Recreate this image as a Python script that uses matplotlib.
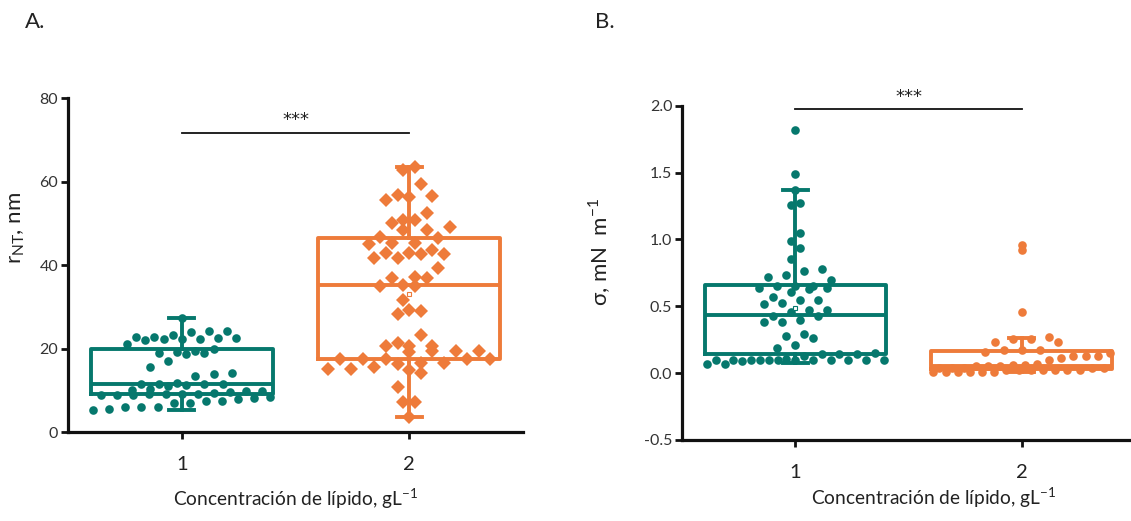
import matplotlib
matplotlib.use("Agg")
import matplotlib.pyplot as plt
import numpy as np

plt.rcParams['font.family'] = ['Lato', 'DejaVu Sans']
plt.rcParams['mathtext.fontset'] = 'custom'
plt.rcParams['mathtext.rm'] = 'Lato'
plt.rcParams['axes.unicode_minus'] = False

TEAL = '#06786D'
ORANGE = '#EE7B3A'

categories = ['1', '2']

# Panel A: r_NT (nm)
rnt_1 = [27.3, 24.3, 24.1, 24.0, 23.3, 22.8, 22.7, 22.6, 22.5, 22.4, 22.3, 22.2, 22.1,
         21.1, 19.8, 19.3, 19.1, 19.0, 18.9, 18.8, 16.9, 15.5, 14.1, 13.9, 13.5, 11.7,
         11.6, 11.5, 11.5, 11.4, 11.3, 11.0, 10.2, 10.0, 9.9, 9.8, 9.6, 9.4, 9.2, 9.1,
         9.0, 9.0, 8.9, 8.9, 8.8, 8.3, 8.1, 7.9, 7.5, 7.4, 7.0, 6.9, 6.1, 6.0, 5.9, 5.6, 5.2]
rnt_2 = [63.6, 62.8, 59.4, 56.7, 56.5, 56.4, 55.5, 52.5, 50.9, 50.8, 50.0, 49.2, 48.5,
         48.4, 46.6, 46.4, 45.3, 45.2, 45.1, 43.6, 42.9, 42.8, 42.7, 42.6, 41.8, 41.7,
         39.4, 37.1, 37.0, 36.9, 35.1, 35.0, 34.9, 31.6, 29.2, 29.0, 28.3, 23.3, 21.3,
         20.7, 20.6, 20.5, 19.4, 19.3, 19.2, 19.3, 17.6, 17.5, 17.5, 17.4, 17.4, 16.6,
         16.5, 16.4, 15.5, 15.0, 15.0, 14.9, 14.1, 10.8, 7.3, 7.2, 3.7]
rnt_q1 = [9.0, 17.6]
rnt_med = [11.4, 35.1]
rnt_q3 = [19.8, 46.4]
rnt_lo = [5.3, 3.7]
rnt_hi = [27.3, 63.5]
rnt_mean = [None, 33.0]

# Panel B: sigma (mN m-1)
sig_1 = [1.82, 1.49, 1.37, 1.275, 1.26, 1.045, 0.99, 0.935, 0.85, 0.78, 0.76, 0.735,
         0.72, 0.70, 0.655, 0.655, 0.655, 0.64, 0.635, 0.63, 0.61, 0.57, 0.545, 0.545,
         0.525, 0.52, 0.475, 0.475, 0.46, 0.43, 0.43, 0.40, 0.38, 0.38, 0.29, 0.28,
         0.26, 0.21, 0.19, 0.15, 0.145, 0.145, 0.145, 0.13, 0.105,
         0.10, 0.10, 0.10, 0.10, 0.10, 0.10, 0.10, 0.10, 0.10, 0.10, 0.10, 0.10,
         0.09, 0.065, 0.065]
sig_2 = [0.96, 0.92, 0.46, 0.27, 0.255, 0.255, 0.23, 0.23, 0.175, 0.175, 0.175, 0.16,
         0.15, 0.125, 0.125, 0.125, 0.11, 0.095, 0.07, 0.06, 0.06, 0.05, 0.05, 0.05,
         0.035, 0.035, 0.035, 0.035, 0.035, 0.02, 0.02, 0.02, 0.02, 0.02, 0.02, 0.02,
         0.01, 0.01, 0.01, 0.01, 0.01, 0.01]
sig_q1 = [0.14, 0.03]
sig_med = [0.435, 0.05]
sig_q3 = [0.66, 0.165]
sig_lo = [0.075, 0.01]
sig_hi = [1.37, 0.26]
sig_mean = [0.49, None]


def scatter_offsets(values, bin_h, step, half_width=0.4):
    """Reparto tipo Prism: bandas horizontales, puntos en una rejilla."""
    vals = np.asarray(values, dtype=float)
    xs = np.zeros(len(vals))
    bins = np.floor(vals / bin_h).astype(int)
    for b in np.unique(bins):
        idx = np.where(bins == b)[0]
        idx = idx[np.argsort(vals[idx])]
        n = len(idx)
        st = step
        if (n - 1) * st > 2 * half_width - 0.02:
            st = (2 * half_width - 0.02) / max(n - 1, 1)
        slots = list(range(0, n, 2)) + list(range(1, n, 2))
        for k, i in zip(slots, idx):
            xs[i] = (k - (n - 1) / 2) * st
    return xs


def draw_panel(ax, groups, q1, med, q3, lo, hi, means, markers, bin_h):
    colors = [TEAL, ORANGE]
    for i, (vals, mk) in enumerate(zip(groups, markers)):
        step = 0.051 if mk == 'D' else 0.04
        xs = i + scatter_offsets(vals, bin_h, step)
        ax.plot(xs, vals, ls='none', marker=mk, ms=6.9 if mk == 'D' else 6.2,
                color=colors[i], mew=0, zorder=2)
    for i in range(2):
        st = dict(q1=q1[i], med=med[i], q3=q3[i], whislo=lo[i], whishi=hi[i], fliers=[])
        ax.bxp([st], positions=[i], widths=0.8, capwidths=0.11,
               showfliers=False, manage_ticks=False,
               boxprops=dict(color=colors[i], linewidth=2.8),
               medianprops=dict(color=colors[i], linewidth=2.8),
               whiskerprops=dict(color=colors[i], linewidth=2.8),
               capprops=dict(color=colors[i], linewidth=2.8), zorder=3)
        if means[i] is not None:
            ax.plot([i], [means[i]], marker='s', ms=3.5, mfc='white', mec=colors[i],
                    mew=0.8, zorder=4)
    ax.set_xlim(-0.5, 1.5)
    ax.set_xticks([0, 1])
    ax.set_xticklabels(categories, fontsize=14.5, color='#222222')
    for s in ['top', 'right']:
        ax.spines[s].set_visible(False)
    for s in ['left', 'bottom']:
        ax.spines[s].set_linewidth(2.3)
        ax.spines[s].set_color('#111111')
    ax.tick_params(axis='both', direction='out', width=2, length=5, color='#111111')
    ax.tick_params(axis='y', labelsize=11.5, labelcolor='#333333', pad=2)
    ax.tick_params(axis='x', pad=12)
    ax.set_xlabel('Concentración de lípido, gL$^{\\mathrm{-1}}$', fontsize=13.8,
                  color='#222222', labelpad=10)


fig = plt.figure(figsize=(11.31, 5.21), dpi=100)
axA = fig.add_axes([0.0601, 0.1708, 0.4023, 0.641])
axB = fig.add_axes([0.603, 0.1555, 0.4005, 0.6417])

draw_panel(axA, [rnt_1, rnt_2], rnt_q1, rnt_med, rnt_q3, rnt_lo, rnt_hi, rnt_mean,
           ['o', 'D'], 5.0)
axA.set_ylim(0, 80)
axA.set_yticks([0, 20, 40, 60, 80])
axA.set_ylabel('r$_{\\mathrm{NT}}$, nm', fontsize=16, color='#222222')
axA.yaxis.set_label_coords(-0.09, 0.61)
axA.plot([0, 1], [71.6, 71.6], color='#111111', lw=1.3, clip_on=False)
axA.text(0.5, 72.6, '***', ha='center', va='bottom', fontsize=13, color='#222222',
         family='DejaVu Sans')

draw_panel(axB, [sig_1, sig_2], sig_q1, sig_med, sig_q3, sig_lo, sig_hi, sig_mean,
           ['o', 'o'], 0.16)
axB.set_ylim(-0.5, 2.0)
axB.set_yticks([-0.5, 0.0, 0.5, 1.0, 1.5, 2.0])
axB.set_yticklabels(['-0.5', '0.0', '0.5', '1.0', '1.5', '2.0'])
axB.set_ylabel('σ, mN  m$^{\\mathrm{-1}}$', fontsize=16, color='#222222')
axB.yaxis.set_label_coords(-0.152, 0.563)
axB.plot([0, 1], [1.975, 1.975], color='#111111', lw=1.3, clip_on=False)
axB.text(0.5, 2.0, '***', ha='center', va='bottom', fontsize=13, color='#222222',
         family='DejaVu Sans', clip_on=False)
axB.xaxis.set_label_coords(0.556, -0.135)

fig.text(0.022, 0.958, 'A.', fontsize=16, va='center', color='#222222')
fig.text(0.526, 0.958, 'B.', fontsize=16, va='center', color='#222222')

fig.savefig('out.png', dpi=100)
